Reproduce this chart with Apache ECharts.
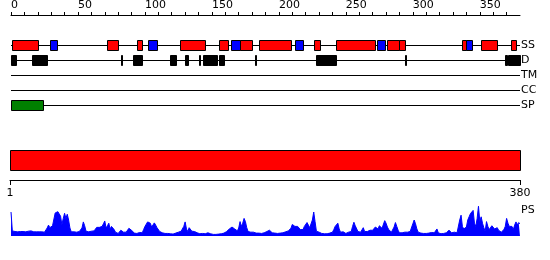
<!DOCTYPE html>
<html><head><meta charset="utf-8">
<script src="https://cdn.jsdelivr.net/npm/echarts@6/dist/echarts.min.js"></script>
<style>html,body{margin:0;padding:0;background:#fff}#c{width:550px;height:260px}</style>
</head><body><div id="c"></div>
<script>
// ---- data ----
const seqLength = 380;
const trackNames = ['SS', 'D', 'TM', 'CC', 'SP'];
const topTickValues = [0,10,20,30,40,50,60,70,80,90,100,110,120,130,140,150,160,170,180,190,200,210,220,230,240,250,260,270,280,290,300,310,320,330,340,350,360,370];
const topLabelValues = [0,50,100,150,200,250,300,350];
const bottomLabelValues = [1, 380];
// secondary structure: H = helix (red), E = strand (blue)
const ssStart = [1, 29, 72, 94, 102, 126, 155, 164, 171, 185, 212, 226, 243, 273, 281, 290, 337, 340, 351, 373];
const ssEnd   = [20, 34, 80, 98, 109, 145, 162, 171, 180, 209, 218, 231, 272, 279, 290, 294, 340, 344, 363, 377];
const ssType  = ['H','E','H','H','E','H','H','E','H','H','E','H','H','E','H','H','H','E','H','H'];
// disorder segments
const dStart = [0, 16, 82, 91, 119, 130, 140, 143, 155, 182, 228, 294, 369, 371];
const dEnd   = [4, 27, 83, 98, 123, 132, 141, 154, 159, 183, 243, 295, 370, 380];
// signal peptide
const spStart = [0];
const spEnd = [24];
// domain bar
const domainStart = [1];
const domainEnd = [380];
// PS profile, one value per position 0..380
const psValues = [
0.75,0.16,0.13,0.14,0.14,0.13,0.14,0.14,0.15,0.14,
0.14,0.13,0.14,0.15,0.19,0.16,0.13,0.13,0.12,0.13,
0.15,0.13,0.12,0.13,0.13,0.12,0.13,0.25,0.34,0.26,
0.30,0.32,0.36,0.72,0.75,0.76,0.75,0.62,0.35,0.55,
0.71,0.55,0.68,0.50,0.25,0.13,0.12,0.13,0.14,0.12,
0.13,0.14,0.12,0.25,0.44,0.32,0.15,0.12,0.13,0.14,
0.15,0.15,0.16,0.20,0.27,0.25,0.27,0.27,0.30,0.38,
0.47,0.25,0.32,0.40,0.22,0.30,0.36,0.20,0.12,0.08,
0.08,0.09,0.18,0.24,0.12,0.08,0.12,0.18,0.24,0.26,
0.18,0.12,0.09,0.08,0.08,0.09,0.11,0.08,0.10,0.20,
0.30,0.34,0.44,0.44,0.40,0.28,0.34,0.41,0.34,0.26,
0.20,0.14,0.12,0.10,0.12,0.08,0.07,0.08,0.09,0.07,
0.08,0.06,0.05,0.09,0.12,0.12,0.13,0.15,0.14,0.30,
0.44,0.22,0.14,0.26,0.30,0.15,0.10,0.14,0.18,0.10,
0.08,0.07,0.08,0.08,0.07,0.07,0.08,0.10,0.09,0.07,
0.05,0.05,0.05,0.05,0.05,0.06,0.06,0.07,0.08,0.09,
0.10,0.14,0.18,0.22,0.26,0.28,0.26,0.22,0.18,0.16,
0.25,0.45,0.30,0.40,0.55,0.45,0.26,0.14,0.10,0.12,
0.10,0.12,0.10,0.09,0.09,0.09,0.09,0.08,0.09,0.10,
0.14,0.14,0.12,0.18,0.14,0.10,0.13,0.09,0.12,0.08,
0.10,0.09,0.12,0.10,0.12,0.13,0.18,0.16,0.14,0.24,
0.36,0.40,0.30,0.26,0.30,0.27,0.20,0.14,0.20,0.30,
0.36,0.42,0.34,0.26,0.28,0.50,0.75,0.45,0.15,0.12,
0.12,0.10,0.08,0.07,0.07,0.08,0.07,0.08,0.09,0.10,
0.12,0.20,0.30,0.24,0.40,0.22,0.12,0.10,0.13,0.10,
0.08,0.10,0.12,0.10,0.14,0.30,0.43,0.32,0.26,0.14,
0.10,0.12,0.18,0.26,0.14,0.12,0.14,0.16,0.18,0.14,
0.18,0.24,0.28,0.24,0.22,0.32,0.36,0.24,0.30,0.48,
0.40,0.28,0.20,0.14,0.12,0.16,0.28,0.42,0.30,0.18,
0.10,0.09,0.10,0.11,0.12,0.12,0.12,0.12,0.14,0.20,
0.38,0.50,0.38,0.22,0.12,0.10,0.09,0.08,0.08,0.08,
0.08,0.08,0.09,0.10,0.11,0.12,0.10,0.16,0.22,0.10,
0.08,0.07,0.08,0.08,0.08,0.10,0.12,0.18,0.22,0.10,
0.10,0.12,0.08,0.10,0.16,0.50,0.65,0.30,0.22,0.18,
0.28,0.50,0.60,0.70,0.76,0.80,0.40,0.30,0.55,0.93,
0.45,0.60,0.40,0.26,0.15,0.45,0.30,0.20,0.26,0.32,
0.36,0.22,0.28,0.26,0.18,0.14,0.12,0.14,0.20,0.30,
0.55,0.40,0.30,0.24,0.30,0.20,0.34,0.44,0.35,0.42,0.38
];
const psLabel = 'PS';

// ---- styles ----
const FONT = 'DejaVu Sans';
const RED = '#ff0000', BLUE = '#0000ff', BLACK = '#000000', GREEN = '#008000';

function boxItem(h) {
  return function (params, api) {
    const s = api.value(0), e = api.value(1), cat = api.value(2);
    const p0 = api.coord([s, cat]);
    const p1 = api.coord([e, cat]);
    const x0 = Math.round(p0[0]) + 0.5;
    const x1 = Math.round(p1[0]) + 0.5;
    const y0 = Math.floor(p0[1] - h / 2) + 0.5;
    return {
      type: 'rect',
      shape: { x: x0, y: y0, width: Math.max(x1 - x0, 1), height: h },
      style: { fill: api.visual('color'), stroke: BLACK, lineWidth: 1 }
    };
  };
}
function lineItem(params, api) {
  const s = api.value(0), e = api.value(1), cat = api.value(2);
  const p0 = api.coord([s, cat]);
  const p1 = api.coord([e, cat]);
  const y = Math.floor(p0[1]) + 0.5;
  return { type: 'line', shape: { x1: Math.round(p0[0]), y1: y, x2: Math.round(p1[0]), y2: y },
           style: { stroke: BLACK, lineWidth: 1 } };
}

const ti = n => trackNames.indexOf(n);
const trackLineData = trackNames.map((n, i) => [0, seqLength, i]);
const ssData = ssStart.map((s, i) => ({ value: [s, ssEnd[i], ti('SS')], itemStyle: { color: ssType[i] === 'H' ? RED : BLUE } }));
const dData = dStart.map((s, i) => ({ value: [s, dEnd[i], ti('D')], itemStyle: { color: BLACK } }));
const spData = spStart.map((s, i) => ({ value: [s, spEnd[i], ti('SP')], itemStyle: { color: GREEN } }));
const domData = domainStart.map((s, i) => ({ value: [s, domainEnd[i], 0], itemStyle: { color: RED } }));
const psData = psValues.map((v, i) => [i, v]);

const chart = echarts.init(document.getElementById('c'), null, { renderer: 'canvas' });
chart.setOption({
  animation: false,
  backgroundColor: '#ffffff',
  textStyle: { fontFamily: FONT },
  grid: [
    { left: 11, right: 30, top: 38, height: 75 },
    { left: 10, right: 30, top: 150, height: 20 },
    { left: 11, right: 30, top: 204, height: 32 }
  ],
  xAxis: [
    { gridIndex: 0, type: 'value', position: 'top', offset: 23, min: 0, max: seqLength,
      axisLine: { show: true, lineStyle: { color: BLACK, width: 1 } },
      axisTick: { show: true, length: 3, customValues: topTickValues, lineStyle: { color: BLACK } },
      axisLabel: { show: true, customValues: topLabelValues, align: 'left', margin: 4,
                   color: BLACK, fontSize: 11, fontFamily: FONT },
      splitLine: { show: false } },
    { gridIndex: 1, type: 'value', position: 'bottom', offset: 10, min: 1, max: seqLength,
      axisLine: { show: true, lineStyle: { color: BLACK, width: 1 } },
      axisTick: { show: true, length: 5, customValues: bottomLabelValues, lineStyle: { color: BLACK } },
      axisLabel: { show: true, customValues: bottomLabelValues, margin: 8,
                   color: BLACK, fontSize: 11, fontFamily: FONT },
      splitLine: { show: false } },
    { gridIndex: 2, type: 'value', min: 0, max: seqLength, show: false }
  ],
  yAxis: [
    { gridIndex: 0, type: 'category', data: trackNames, inverse: true, position: 'right',
      axisLine: { show: false }, axisTick: { show: false },
      axisLabel: { show: true, margin: 1, align: 'left', color: BLACK, fontSize: 11, fontFamily: FONT },
      splitLine: { show: false } },
    { gridIndex: 1, type: 'category', data: ['domain'], show: false },
    { gridIndex: 2, type: 'value', min: 0, max: 1, show: false }
  ],
  series: [
    { type: 'custom', xAxisIndex: 0, yAxisIndex: 0, renderItem: lineItem, data: trackLineData,
      encode: { x: [0, 1], y: 2 }, silent: true },
    { type: 'custom', xAxisIndex: 0, yAxisIndex: 0, renderItem: boxItem(10), data: ssData,
      encode: { x: [0, 1], y: 2 }, silent: true },
    { type: 'custom', xAxisIndex: 0, yAxisIndex: 0, renderItem: boxItem(10), data: dData,
      encode: { x: [0, 1], y: 2 }, silent: true },
    { type: 'custom', xAxisIndex: 0, yAxisIndex: 0, renderItem: boxItem(10), data: spData,
      encode: { x: [0, 1], y: 2 }, silent: true },
    { type: 'custom', xAxisIndex: 1, yAxisIndex: 1, renderItem: boxItem(20), data: domData,
      encode: { x: [0, 1], y: 2 }, silent: true },
    { type: 'line', xAxisIndex: 2, yAxisIndex: 2, data: psData, symbol: 'none', silent: true,
      lineStyle: { color: BLUE, width: 1 }, itemStyle: { color: BLUE },
      areaStyle: { color: BLUE, opacity: 1, origin: 'start' } }
  ],
  graphic: [
    { type: 'text', left: 521, top: 205, silent: true,
      style: { text: psLabel, fill: BLACK, font: '11px "DejaVu Sans"' } }
  ]
});
</script>
</body></html>
